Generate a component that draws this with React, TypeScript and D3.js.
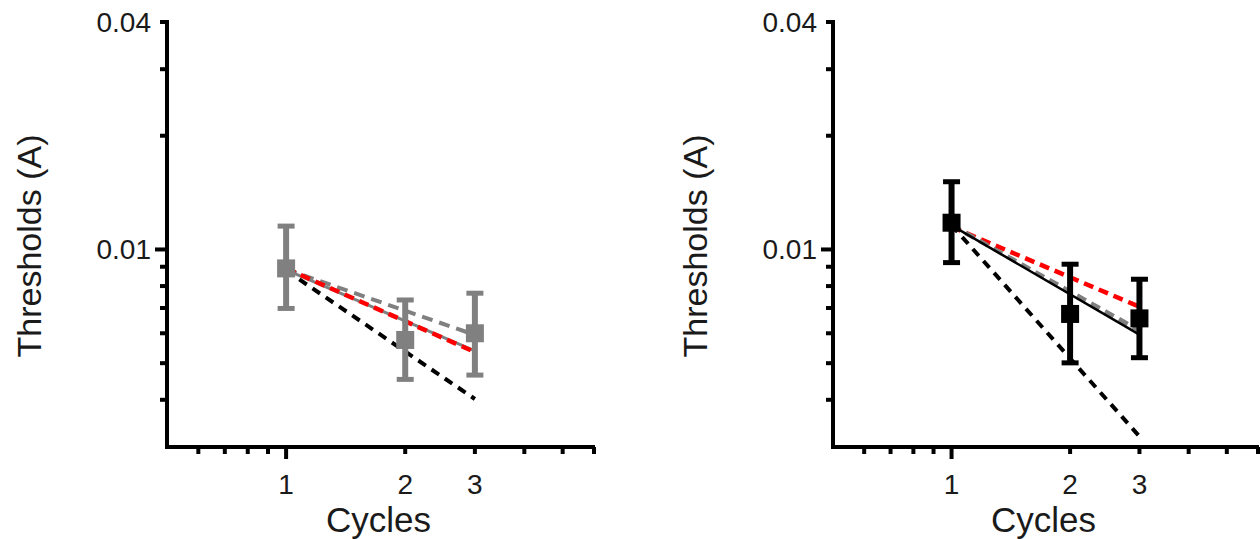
import React from "react";
import * as d3 from "d3";

const cycles = [1, 2, 3];

// Left panel (gray data)
const leftMean = [0.00891, 0.00576, 0.006];
const leftUpper = [0.01153, 0.00735, 0.00766];
const leftLower = [0.00698, 0.00453, 0.00465];

// Right panel (black data)
const rightMean = [0.01177, 0.00675, 0.00657];
const rightUpper = [0.01511, 0.00914, 0.00834];
const rightLower = [0.00923, 0.00501, 0.00517];

// Fit / model lines: values at cycle 1 and cycle 3
const lineX = [1, 3];
const leftGraySolid = [0.00883, 0.00539];
const leftRedDashed = [0.0089, 0.00535];
const leftGrayDashed = [0.00886, 0.00594];
const leftBlackDashed = [0.0088, 0.00402];

const rightBlackSolid = [0.01158, 0.00595];
const rightGrayDashed = [0.0116, 0.0061];
const rightRedDashed = [0.01148, 0.00705];
const rightBlackDashed = [0.0116, 0.0032];

const xDomain = [0.5, 6];
const yDomain = [0.003, 0.04];
const xMajorTicks = [1];
const xMinorTicks = [0.6, 0.7, 0.8, 0.9, 2, 3, 4, 5, 6];
const xTickLabels = [1, 2, 3];
const yMajorTicks = [0.01];
const yMinorTicks = [0.004, 0.005, 0.006, 0.007, 0.008, 0.009, 0.02, 0.03, 0.04];
const yTickLabels = [0.01, 0.04];

const FONT = "Liberation Sans, Arial, Helvetica, sans-serif";
const TEXT = "#1a1a1a";

type LineSpec = { values: number[]; color: string; dash?: string; width: number };

function Panel(props: {
  x0: number;
  x1: number;
  mean: number[];
  upper: number[];
  lower: number[];
  color: string;
  lines: LineSpec[];
}) {
  const { x0, x1, mean, upper, lower, color, lines } = props;
  const yTop = 22;
  const yBot = 447;
  const x = d3.scaleLog().domain(xDomain).range([x0, x1]);
  const y = d3.scaleLog().domain(yDomain).range([yBot, yTop]);
  const line = d3
    .line<[number, number]>()
    .x((d) => x(d[0]))
    .y((d) => y(d[1]));
  const ax = x0;
  const capW = 17;
  const box = 18;
  return (
    <g>
      {lines.map((l, i) => (
        <path
          key={i}
          d={line(lineX.map((c, j) => [c, l.values[j]]) as [number, number][]) || ""}
          fill="none"
          stroke={l.color}
          strokeWidth={l.width}
          strokeDasharray={l.dash}
        />
      ))}
      {cycles.map((c, i) => (
        <g key={"e" + i}>
          <line x1={x(c)} x2={x(c)} y1={y(upper[i])} y2={y(lower[i])} stroke={color} strokeWidth={6} />
          <line x1={x(c) - capW / 2} x2={x(c) + capW / 2} y1={y(upper[i])} y2={y(upper[i])} stroke={color} strokeWidth={5} />
          <line x1={x(c) - capW / 2} x2={x(c) + capW / 2} y1={y(lower[i])} y2={y(lower[i])} stroke={color} strokeWidth={5} />
          <rect x={x(c) - box / 2} y={y(mean[i]) - box / 2} width={box} height={box} fill={color} />
        </g>
      ))}
      <line x1={ax} x2={ax} y1={yTop - 2} y2={yBot + 2} stroke="#000" strokeWidth={4} />
      <line x1={ax - 2} x2={x1 + 1} y1={yBot} y2={yBot} stroke="#000" strokeWidth={4} />
      {xMinorTicks.map((t) => (
        <line key={"xm" + t} x1={x(t)} x2={x(t)} y1={yBot} y2={yBot + 7} stroke="#000" strokeWidth={4} />
      ))}
      {xMajorTicks.map((t) => (
        <line key={"xM" + t} x1={x(t)} x2={x(t)} y1={yBot} y2={yBot + 12} stroke="#000" strokeWidth={4} />
      ))}
      {yMinorTicks.map((t) => (
        <line key={"ym" + t} x1={ax - 7} x2={ax} y1={y(t)} y2={y(t)} stroke="#000" strokeWidth={4} />
      ))}
      {yMajorTicks.map((t) => (
        <line key={"yM" + t} x1={ax - 12} x2={ax} y1={y(t)} y2={y(t)} stroke="#000" strokeWidth={4} />
      ))}
      {xTickLabels.map((t) => (
        <text key={"xl" + t} x={x(t)} y={494} textAnchor="middle" fontSize={28} fontFamily={FONT} fill={TEXT}>
          {t}
        </text>
      ))}
      {yTickLabels.map((t) => (
        <text key={"yl" + t} x={ax - 16} y={y(t) + 10} textAnchor="end" fontSize={28} fontFamily={FONT} fill={TEXT}>
          {String(t)}
        </text>
      ))}
      <text x={(x0 + x1) / 2 - 2} y={532} textAnchor="middle" fontSize={35} fontFamily={FONT} fill={TEXT}>
        Cycles
      </text>
      <text
        transform={`translate(${ax - 126},${246}) rotate(-90)`}
        textAnchor="middle"
        fontSize={34}
        fontFamily={FONT}
        fill={TEXT}
      >
        Thresholds (A)
      </text>
    </g>
  );
}

export default function App() {
  const gray = "#808080";
  const red = "#ff0000";
  const black = "#000000";
  return (
    <svg width={1260} height={539} style={{ position: "absolute", left: 0, top: 0, background: "#fff" }}>
      <rect width={1260} height={539} fill="#fff" />
      <Panel
        x0={167}
        x1={594}
        mean={leftMean}
        upper={leftUpper}
        lower={leftLower}
        color={gray}
        lines={[
          { values: leftBlackDashed, color: black, dash: "9 7", width: 4 },
          { values: leftGrayDashed, color: gray, dash: "11 7", width: 4 },
          { values: leftGraySolid, color: gray, width: 3 },
          { values: leftRedDashed, color: red, dash: "10 6", width: 4.5 },
        ]}
      />
      <Panel
        x0={833}
        x1={1258}
        mean={rightMean}
        upper={rightUpper}
        lower={rightLower}
        color={black}
        lines={[
          { values: rightBlackDashed, color: black, dash: "9 7", width: 4 },
          { values: rightRedDashed, color: red, dash: "10 6", width: 4.5 },
          { values: rightGrayDashed, color: gray, dash: "10 6", width: 4.5 },
          { values: rightBlackSolid, color: black, width: 2.5 },
        ]}
      />
    </svg>
  );
}
